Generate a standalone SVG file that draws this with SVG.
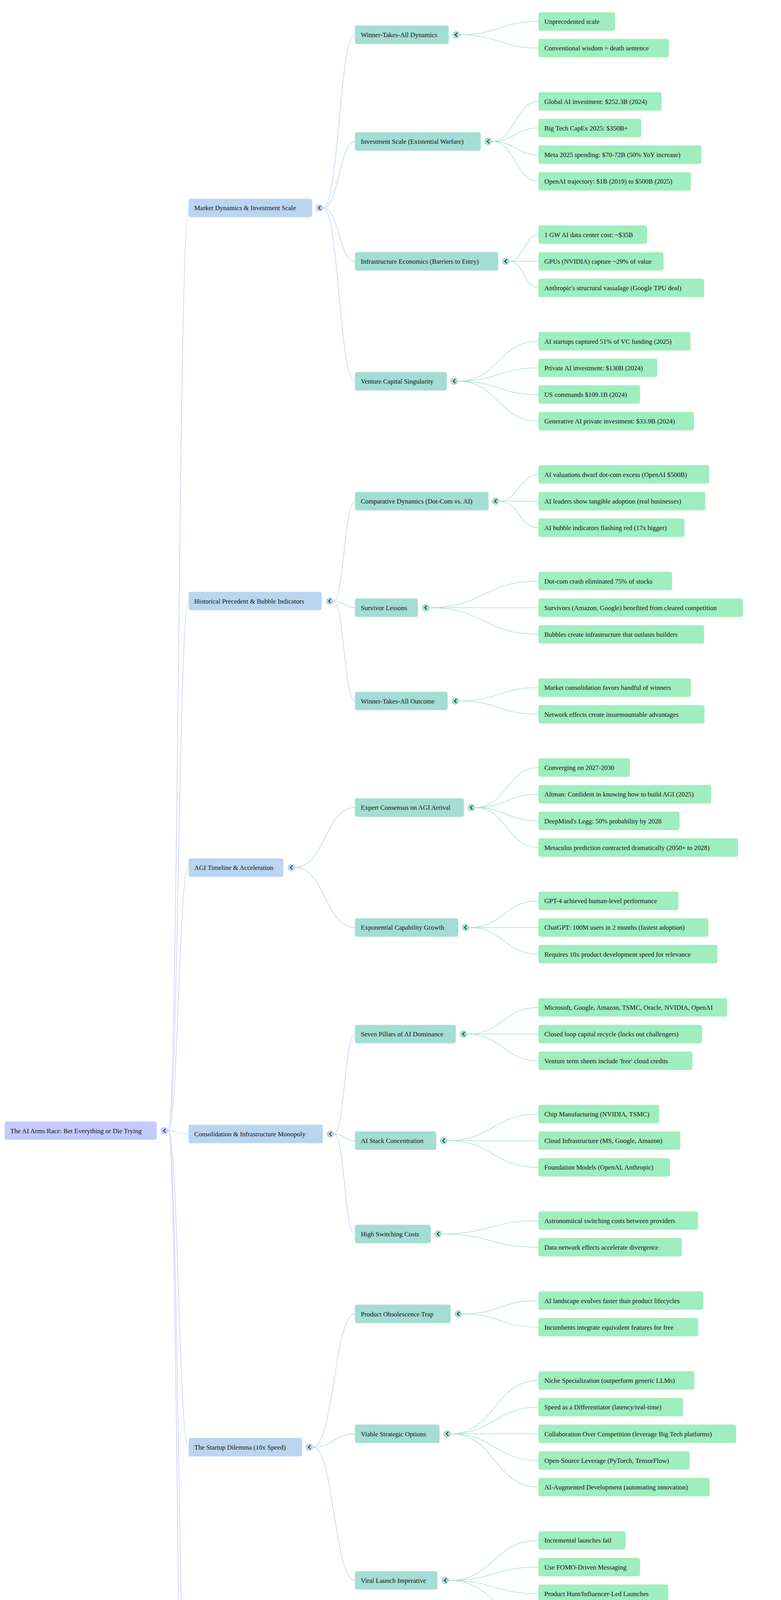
<svg xmlns="http://www.w3.org/2000/svg" width="2000" height="5704" viewBox="0 0 2000 5704">
<style>
text{font-family:"Liberation Serif","Times New Roman",serif;font-size:17px;fill:#111}
rect{stroke-width:1.5;stroke-opacity:0.5}
.n0{fill:#c4cafe;stroke:#d8dcff}
.n1{fill:#bad5f0;stroke:#d2e4f7}
.n2{fill:#a3ddd3;stroke:#c2ebe3}
.n3{fill:#9eeebe;stroke:#c0f6d6}
.c0{fill:#c4cafe}.c1{fill:#bad5f0}.c2{fill:#a3ddd3}
.chev{fill:none;stroke:#111;stroke-width:1.8;stroke-linecap:round;stroke-linejoin:round}
#connectors path{fill:none;stroke-width:1.5}
.l0{stroke:#c4cafe}.l1{stroke:#b9d3f1}.l2{stroke:#a5e0d5}
</style>
<g id="connectors">
<path class="l0" d="M430.5,2894.6 C456.8,2894.6 456.8,532.4 483,532.4"/>
<path class="l0" d="M430.5,2894.6 C456.8,2894.6 456.8,1538.7 483,1538.7"/>
<path class="l0" d="M430.5,2894.6 C456.8,2894.6 456.8,2220.9 483,2220.9"/>
<path class="l0" d="M430.5,2894.6 C456.8,2894.6 456.8,2903.1 483,2903.1"/>
<path class="l0" d="M430.5,2894.6 C456.8,2894.6 456.8,3704.7 483,3704.7"/>
<path class="l0" d="M430.5,2894.6 C456.8,2894.6 456.8,4489.2 483,4489.2"/>
<path class="l0" d="M430.5,2894.6 C456.8,2894.6 456.8,5256.7 483,5256.7"/>
<path class="l1" d="M827.5,532.4 C868.3,532.4 868.3,89 909,89"/>
<path class="l1" d="M827.5,532.4 C868.3,532.4 868.3,361.9 909,361.9"/>
<path class="l1" d="M827.5,532.4 C868.3,532.4 868.3,668.9 909,668.9"/>
<path class="l1" d="M827.5,532.4 C868.3,532.4 868.3,975.9 909,975.9"/>
<path class="l1" d="M853.5,1538.7 C881.3,1538.7 881.3,1282.9 909,1282.9"/>
<path class="l1" d="M853.5,1538.7 C881.3,1538.7 881.3,1555.7 909,1555.7"/>
<path class="l1" d="M853.5,1538.7 C881.3,1538.7 881.3,1794.5 909,1794.5"/>
<path class="l1" d="M755.5,2220.9 C832.3,2220.9 832.3,2067.4 909,2067.4"/>
<path class="l1" d="M755.5,2220.9 C832.3,2220.9 832.3,2374.4 909,2374.4"/>
<path class="l1" d="M855.5,2903.1 C882.3,2903.1 882.3,2647.3 909,2647.3"/>
<path class="l1" d="M855.5,2903.1 C882.3,2903.1 882.3,2920.1 909,2920.1"/>
<path class="l1" d="M855.5,2903.1 C882.3,2903.1 882.3,3158.9 909,3158.9"/>
<path class="l1" d="M801.5,3704.7 C855.3,3704.7 855.3,3363.6 909,3363.6"/>
<path class="l1" d="M801.5,3704.7 C855.3,3704.7 855.3,3670.6 909,3670.6"/>
<path class="l1" d="M801.5,3704.7 C855.3,3704.7 855.3,4045.8 909,4045.8"/>
<path class="l1" d="M824.5,4489.2 C866.8,4489.2 866.8,4352.8 909,4352.8"/>
<path class="l1" d="M824.5,4489.2 C866.8,4489.2 866.8,4625.6 909,4625.6"/>
<path class="l1" d="M807.5,5256.7 C858.3,5256.7 858.3,4932.6 909,4932.6"/>
<path class="l1" d="M807.5,5256.7 C858.3,5256.7 858.3,5273.7 909,5273.7"/>
<path class="l1" d="M807.5,5256.7 C858.3,5256.7 858.3,5580.7 909,5580.7"/>
<path class="l2" d="M1177.5,89 C1278.3,89 1278.3,54.9 1379,54.9"/>
<path class="l2" d="M1177.5,89 C1278.3,89 1278.3,123.1 1379,123.1"/>
<path class="l2" d="M1259.5,361.9 C1319.3,361.9 1319.3,259.6 1379,259.6"/>
<path class="l2" d="M1259.5,361.9 C1319.3,361.9 1319.3,327.8 1379,327.8"/>
<path class="l2" d="M1259.5,361.9 C1319.3,361.9 1319.3,396 1379,396"/>
<path class="l2" d="M1259.5,361.9 C1319.3,361.9 1319.3,464.2 1379,464.2"/>
<path class="l2" d="M1304.5,668.9 C1341.8,668.9 1341.8,600.7 1379,600.7"/>
<path class="l2" d="M1304.5,668.9 C1341.8,668.9 1341.8,668.9 1379,668.9"/>
<path class="l2" d="M1304.5,668.9 C1341.8,668.9 1341.8,737.1 1379,737.1"/>
<path class="l2" d="M1172.5,975.9 C1275.8,975.9 1275.8,873.5 1379,873.5"/>
<path class="l2" d="M1172.5,975.9 C1275.8,975.9 1275.8,941.8 1379,941.8"/>
<path class="l2" d="M1172.5,975.9 C1275.8,975.9 1275.8,1010 1379,1010"/>
<path class="l2" d="M1172.5,975.9 C1275.8,975.9 1275.8,1078.2 1379,1078.2"/>
<path class="l2" d="M1278.5,1282.9 C1328.8,1282.9 1328.8,1214.6 1379,1214.6"/>
<path class="l2" d="M1278.5,1282.9 C1328.8,1282.9 1328.8,1282.9 1379,1282.9"/>
<path class="l2" d="M1278.5,1282.9 C1328.8,1282.9 1328.8,1351.1 1379,1351.1"/>
<path class="l2" d="M1099.5,1555.7 C1239.3,1555.7 1239.3,1487.5 1379,1487.5"/>
<path class="l2" d="M1099.5,1555.7 C1239.3,1555.7 1239.3,1555.7 1379,1555.7"/>
<path class="l2" d="M1099.5,1555.7 C1239.3,1555.7 1239.3,1624 1379,1624"/>
<path class="l2" d="M1175.5,1794.5 C1277.3,1794.5 1277.3,1760.4 1379,1760.4"/>
<path class="l2" d="M1175.5,1794.5 C1277.3,1794.5 1277.3,1828.6 1379,1828.6"/>
<path class="l2" d="M1216.5,2067.4 C1297.8,2067.4 1297.8,1965.1 1379,1965.1"/>
<path class="l2" d="M1216.5,2067.4 C1297.8,2067.4 1297.8,2033.3 1379,2033.3"/>
<path class="l2" d="M1216.5,2067.4 C1297.8,2067.4 1297.8,2101.5 1379,2101.5"/>
<path class="l2" d="M1216.5,2067.4 C1297.8,2067.4 1297.8,2169.7 1379,2169.7"/>
<path class="l2" d="M1201.5,2374.4 C1290.3,2374.4 1290.3,2306.2 1379,2306.2"/>
<path class="l2" d="M1201.5,2374.4 C1290.3,2374.4 1290.3,2374.4 1379,2374.4"/>
<path class="l2" d="M1201.5,2374.4 C1290.3,2374.4 1290.3,2442.6 1379,2442.6"/>
<path class="l2" d="M1196.5,2647.3 C1287.8,2647.3 1287.8,2579 1379,2579"/>
<path class="l2" d="M1196.5,2647.3 C1287.8,2647.3 1287.8,2647.3 1379,2647.3"/>
<path class="l2" d="M1196.5,2647.3 C1287.8,2647.3 1287.8,2715.5 1379,2715.5"/>
<path class="l2" d="M1145.5,2920.1 C1262.3,2920.1 1262.3,2851.9 1379,2851.9"/>
<path class="l2" d="M1145.5,2920.1 C1262.3,2920.1 1262.3,2920.1 1379,2920.1"/>
<path class="l2" d="M1145.5,2920.1 C1262.3,2920.1 1262.3,2988.4 1379,2988.4"/>
<path class="l2" d="M1131.5,3158.9 C1255.3,3158.9 1255.3,3124.8 1379,3124.8"/>
<path class="l2" d="M1131.5,3158.9 C1255.3,3158.9 1255.3,3193 1379,3193"/>
<path class="l2" d="M1183,3363.6 C1281,3363.6 1281,3329.5 1379,3329.5"/>
<path class="l2" d="M1183,3363.6 C1281,3363.6 1281,3397.7 1379,3397.7"/>
<path class="l2" d="M1154.5,3670.6 C1266.8,3670.6 1266.8,3534.1 1379,3534.1"/>
<path class="l2" d="M1154.5,3670.6 C1266.8,3670.6 1266.8,3602.3 1379,3602.3"/>
<path class="l2" d="M1154.5,3670.6 C1266.8,3670.6 1266.8,3670.6 1379,3670.6"/>
<path class="l2" d="M1154.5,3670.6 C1266.8,3670.6 1266.8,3738.8 1379,3738.8"/>
<path class="l2" d="M1154.5,3670.6 C1266.8,3670.6 1266.8,3807 1379,3807"/>
<path class="l2" d="M1149.5,4045.8 C1264.3,4045.8 1264.3,3943.4 1379,3943.4"/>
<path class="l2" d="M1149.5,4045.8 C1264.3,4045.8 1264.3,4011.7 1379,4011.7"/>
<path class="l2" d="M1149.5,4045.8 C1264.3,4045.8 1264.3,4079.9 1379,4079.9"/>
<path class="l2" d="M1149.5,4045.8 C1264.3,4045.8 1264.3,4148.1 1379,4148.1"/>
<path class="l2" d="M1276.5,4352.8 C1327.8,4352.8 1327.8,4284.5 1379,4284.5"/>
<path class="l2" d="M1276.5,4352.8 C1327.8,4352.8 1327.8,4352.8 1379,4352.8"/>
<path class="l2" d="M1276.5,4352.8 C1327.8,4352.8 1327.8,4421 1379,4421"/>
<path class="l2" d="M1162.5,4625.6 C1270.8,4625.6 1270.8,4557.4 1379,4557.4"/>
<path class="l2" d="M1162.5,4625.6 C1270.8,4625.6 1270.8,4625.6 1379,4625.6"/>
<path class="l2" d="M1162.5,4625.6 C1270.8,4625.6 1270.8,4693.9 1379,4693.9"/>
<path class="l2" d="M1325.5,4932.6 C1352.3,4932.6 1352.3,4830.3 1379,4830.3"/>
<path class="l2" d="M1325.5,4932.6 C1352.3,4932.6 1352.3,4898.5 1379,4898.5"/>
<path class="l2" d="M1325.5,4932.6 C1352.3,4932.6 1352.3,4966.7 1379,4966.7"/>
<path class="l2" d="M1325.5,4932.6 C1352.3,4932.6 1352.3,5035 1379,5035"/>
<path class="l2" d="M1100.5,5273.7 C1239.8,5273.7 1239.8,5171.4 1379,5171.4"/>
<path class="l2" d="M1100.5,5273.7 C1239.8,5273.7 1239.8,5239.6 1379,5239.6"/>
<path class="l2" d="M1100.5,5273.7 C1239.8,5273.7 1239.8,5307.8 1379,5307.8"/>
<path class="l2" d="M1100.5,5273.7 C1239.8,5273.7 1239.8,5376.1 1379,5376.1"/>
<path class="l2" d="M1140,5580.7 C1259.5,5580.7 1259.5,5512.5 1379,5512.5"/>
<path class="l2" d="M1140,5580.7 C1259.5,5580.7 1259.5,5580.7 1379,5580.7"/>
<path class="l2" d="M1140,5580.7 C1259.5,5580.7 1259.5,5648.9 1379,5648.9"/>
</g>
<g id="root"><rect class="n0" x="12" y="2871.1" width="389" height="47" rx="5"/><text x="26.5" y="2900.6">The AI Arms Race: Bet Everything or Die Trying</text><circle class="c0" cx="421" cy="2894.6" r="9.5"/><path class="chev" d="M423.5,2890.1 l-5,4.5 l5,4.5"/></g>
<g id="n1"><rect class="n1" x="483" y="508.9" width="316" height="47" rx="5"/><text x="497.5" y="538.4">Market Dynamics &amp; Investment Scale</text><circle class="c1" cx="818" cy="532.4" r="9.5"/><path class="chev" d="M820.5,527.9 l-5,4.5 l5,4.5"/></g>
<g id="n2"><rect class="n1" x="483" y="1515.2" width="340.5" height="47" rx="5"/><text x="497.5" y="1544.7">Historical Precedent &amp; Bubble Indicators</text><circle class="c1" cx="844" cy="1538.7" r="9.5"/><path class="chev" d="M846.5,1534.2 l-5,4.5 l5,4.5"/></g>
<g id="n3"><rect class="n1" x="483" y="2197.4" width="242.5" height="47" rx="5"/><text x="497.5" y="2226.9">AGI Timeline &amp; Acceleration</text><circle class="c1" cx="746" cy="2220.9" r="9.5"/><path class="chev" d="M748.5,2216.4 l-5,4.5 l5,4.5"/></g>
<g id="n4"><rect class="n1" x="483" y="2879.6" width="343.5" height="47" rx="5"/><text x="497.5" y="2909.1">Consolidation &amp; Infrastructure Monopoly</text><circle class="c1" cx="846" cy="2903.1" r="9.5"/><path class="chev" d="M848.5,2898.6 l-5,4.5 l5,4.5"/></g>
<g id="n5"><rect class="n1" x="483" y="3681.2" width="290.5" height="47" rx="5"/><text x="497.5" y="3710.7">The Startup Dilemma (10x Speed)</text><circle class="c1" cx="792" cy="3704.7" r="9.5"/><path class="chev" d="M794.5,3700.2 l-5,4.5 l5,4.5"/></g>
<g id="n6"><rect class="n1" x="483" y="4465.7" width="313" height="47" rx="5"/><text x="497.5" y="4495.2">End-User Dividend &amp; Data Monopoly</text><circle class="c1" cx="815" cy="4489.2" r="9.5"/><path class="chev" d="M817.5,4484.7 l-5,4.5 l5,4.5"/></g>
<g id="n7"><rect class="n1" x="483" y="5233.2" width="295.6" height="47" rx="5"/><text x="497.5" y="5262.7">Strategic Imperatives for Founders</text><circle class="c1" cx="798" cy="5256.7" r="9.5"/><path class="chev" d="M800.5,5252.2 l-5,4.5 l5,4.5"/></g>
<g id="n1a"><rect class="n2" x="909" y="65.5" width="240" height="47" rx="5"/><text x="924" y="95">Winner-Takes-All Dynamics</text><circle class="c2" cx="1168" cy="89" r="9.5"/><path class="chev" d="M1170.5,84.5 l-5,4.5 l5,4.5"/></g>
<g id="n1b"><rect class="n2" x="909" y="338.4" width="322" height="47" rx="5"/><text x="924" y="367.9">Investment Scale (Existential Warfare)</text><circle class="c2" cx="1250" cy="361.9" r="9.5"/><path class="chev" d="M1252.5,357.4 l-5,4.5 l5,4.5"/></g>
<g id="n1c"><rect class="n2" x="909" y="645.4" width="367" height="47" rx="5"/><text x="924" y="674.9">Infrastructure Economics (Barriers to Entry)</text><circle class="c2" cx="1295" cy="668.9" r="9.5"/><path class="chev" d="M1297.5,664.4 l-5,4.5 l5,4.5"/></g>
<g id="n1d"><rect class="n2" x="909" y="952.4" width="235" height="47" rx="5"/><text x="924" y="981.9">Venture Capital Singularity</text><circle class="c2" cx="1163" cy="975.9" r="9.5"/><path class="chev" d="M1165.5,971.4 l-5,4.5 l5,4.5"/></g>
<g id="n2a"><rect class="n2" x="909" y="1259.4" width="342" height="47" rx="5"/><text x="924" y="1288.9">Comparative Dynamics (Dot-Com vs. AI)</text><circle class="c2" cx="1269" cy="1282.9" r="9.5"/><path class="chev" d="M1271.5,1278.4 l-5,4.5 l5,4.5"/></g>
<g id="n2b"><rect class="n2" x="909" y="1532.2" width="161" height="47" rx="5"/><text x="924" y="1561.7">Survivor Lessons</text><circle class="c2" cx="1090" cy="1555.7" r="9.5"/><path class="chev" d="M1092.5,1551.2 l-5,4.5 l5,4.5"/></g>
<g id="n2c"><rect class="n2" x="909" y="1771" width="237" height="47" rx="5"/><text x="924" y="1800.5">Winner-Takes-All Outcome</text><circle class="c2" cx="1166" cy="1794.5" r="9.5"/><path class="chev" d="M1168.5,1790 l-5,4.5 l5,4.5"/></g>
<g id="n3a"><rect class="n2" x="909" y="2043.9" width="279" height="47" rx="5"/><text x="924" y="2073.4">Expert Consensus on AGI Arrival</text><circle class="c2" cx="1207" cy="2067.4" r="9.5"/><path class="chev" d="M1209.5,2062.9 l-5,4.5 l5,4.5"/></g>
<g id="n3b"><rect class="n2" x="909" y="2350.9" width="264.5" height="47" rx="5"/><text x="924" y="2380.4">Exponential Capability Growth</text><circle class="c2" cx="1192" cy="2374.4" r="9.5"/><path class="chev" d="M1194.5,2369.9 l-5,4.5 l5,4.5"/></g>
<g id="n4a"><rect class="n2" x="909" y="2623.8" width="258" height="47" rx="5"/><text x="924" y="2653.3">Seven Pillars of AI Dominance</text><circle class="c2" cx="1187" cy="2647.3" r="9.5"/><path class="chev" d="M1189.5,2642.8 l-5,4.5 l5,4.5"/></g>
<g id="n4b"><rect class="n2" x="909" y="2896.6" width="208" height="47" rx="5"/><text x="924" y="2926.1">AI Stack Concentration</text><circle class="c2" cx="1136" cy="2920.1" r="9.5"/><path class="chev" d="M1138.5,2915.6 l-5,4.5 l5,4.5"/></g>
<g id="n4c"><rect class="n2" x="909" y="3135.4" width="194" height="47" rx="5"/><text x="924" y="3164.9">High Switching Costs</text><circle class="c2" cx="1122" cy="3158.9" r="9.5"/><path class="chev" d="M1124.5,3154.4 l-5,4.5 l5,4.5"/></g>
<g id="n5a"><rect class="n2" x="909" y="3340.1" width="245" height="47" rx="5"/><text x="924" y="3369.6">Product Obsolescence Trap</text><circle class="c2" cx="1173.5" cy="3363.6" r="9.5"/><path class="chev" d="M1176,3359.1 l-5,4.5 l5,4.5"/></g>
<g id="n5b"><rect class="n2" x="909" y="3647.1" width="216.5" height="47" rx="5"/><text x="924" y="3676.6">Viable Strategic Options</text><circle class="c2" cx="1145" cy="3670.6" r="9.5"/><path class="chev" d="M1147.5,3666.1 l-5,4.5 l5,4.5"/></g>
<g id="n5c"><rect class="n2" x="909" y="4022.3" width="211" height="47" rx="5"/><text x="924" y="4051.8">Viral Launch Imperative</text><circle class="c2" cx="1140" cy="4045.8" r="9.5"/><path class="chev" d="M1142.5,4041.3 l-5,4.5 l5,4.5"/></g>
<g id="n6a"><rect class="n2" x="909" y="4329.3" width="339" height="47" rx="5"/><text x="924" y="4358.8">Subsidization Strategy (Market Capture)</text><circle class="c2" cx="1267" cy="4352.8" r="9.5"/><path class="chev" d="M1269.5,4348.3 l-5,4.5 l5,4.5"/></g>
<g id="n6b"><rect class="n2" x="909" y="4602.1" width="225" height="47" rx="5"/><text x="924" y="4631.6">Data Monopoly Endgame</text><circle class="c2" cx="1153" cy="4625.6" r="9.5"/><path class="chev" d="M1155.5,4621.1 l-5,4.5 l5,4.5"/></g>
<g id="n7a"><rect class="n2" x="909" y="4909.1" width="388" height="47" rx="5"/><text x="924" y="4938.6">The All-In Decision Framework (Binary Choice)</text><circle class="c2" cx="1316" cy="4932.6" r="9.5"/><path class="chev" d="M1318.5,4928.1 l-5,4.5 l5,4.5"/></g>
<g id="n7b"><rect class="n2" x="909" y="5250.2" width="162" height="47" rx="5"/><text x="924" y="5279.7">Required Actions</text><circle class="c2" cx="1091" cy="5273.7" r="9.5"/><path class="chev" d="M1093.5,5269.2 l-5,4.5 l5,4.5"/></g>
<g id="n7c"><rect class="n2" x="909" y="5557.2" width="202" height="47" rx="5"/><text x="924" y="5586.7">The Finish Line Mirage</text><circle class="c2" cx="1130.5" cy="5580.7" r="9.5"/><path class="chev" d="M1133,5576.2 l-5,4.5 l5,4.5"/></g>
<g id="leaf00"><rect class="n3" x="1379" y="31.4" width="196" height="47" rx="5"/><text x="1394" y="60.9">Unprecedented scale</text></g>
<g id="leaf01"><rect class="n3" x="1379" y="99.6" width="334" height="47" rx="5"/><text x="1394" y="129.1">Conventional wisdom = death sentence</text></g>
<g id="leaf03"><rect class="n3" x="1379" y="236.1" width="315" height="47" rx="5"/><text x="1394" y="265.6">Global AI investment: $252.3B (2024)</text></g>
<g id="leaf04"><rect class="n3" x="1379" y="304.3" width="263" height="47" rx="5"/><text x="1394" y="333.8">Big Tech CapEx 2025: $350B+</text></g>
<g id="leaf05"><rect class="n3" x="1379" y="372.5" width="417" height="47" rx="5"/><text x="1394" y="402">Meta 2025 spending: $70-72B (50% YoY increase)</text></g>
<g id="leaf06"><rect class="n3" x="1379" y="440.7" width="390" height="47" rx="5"/><text x="1394" y="470.2">OpenAI trajectory: $1B (2019) to $500B (2025)</text></g>
<g id="leaf08"><rect class="n3" x="1379" y="577.2" width="278" height="47" rx="5"/><text x="1394" y="606.7">1 GW AI data center cost: ~$35B</text></g>
<g id="leaf09"><rect class="n3" x="1379" y="645.4" width="320" height="47" rx="5"/><text x="1394" y="674.9">GPUs (NVIDIA) capture ~29% of value</text></g>
<g id="leaf10"><rect class="n3" x="1379" y="713.6" width="424" height="47" rx="5"/><text x="1394" y="743.1">Anthropic's structural vassalage (Google TPU deal)</text></g>
<g id="leaf12"><rect class="n3" x="1379" y="850" width="389" height="47" rx="5"/><text x="1394" y="879.5">AI startups captured 51% of VC funding (2025)</text></g>
<g id="leaf13"><rect class="n3" x="1379" y="918.3" width="304" height="47" rx="5"/><text x="1394" y="947.8">Private AI investment: $130B (2024)</text></g>
<g id="leaf14"><rect class="n3" x="1379" y="986.5" width="260" height="47" rx="5"/><text x="1394" y="1016">US commands $109.1B (2024)</text></g>
<g id="leaf15"><rect class="n3" x="1379" y="1054.7" width="398" height="47" rx="5"/><text x="1394" y="1084.2">Generative AI private investment: $33.9B (2024)</text></g>
<g id="leaf17"><rect class="n3" x="1379" y="1191.1" width="437" height="47" rx="5"/><text x="1394" y="1220.6">AI valuations dwarf dot-com excess (OpenAI $500B)</text></g>
<g id="leaf18"><rect class="n3" x="1379" y="1259.4" width="427" height="47" rx="5"/><text x="1394" y="1288.9">AI leaders show tangible adoption (real businesses)</text></g>
<g id="leaf19"><rect class="n3" x="1379" y="1327.6" width="374" height="47" rx="5"/><text x="1394" y="1357.1">AI bubble indicators flashing red (17x bigger)</text></g>
<g id="leaf21"><rect class="n3" x="1379" y="1464" width="342" height="47" rx="5"/><text x="1394" y="1493.5">Dot-com crash eliminated 75% of stocks</text></g>
<g id="leaf22"><rect class="n3" x="1379" y="1532.2" width="523" height="47" rx="5"/><text x="1394" y="1561.7">Survivors (Amazon, Google) benefited from cleared competition</text></g>
<g id="leaf23"><rect class="n3" x="1379" y="1600.5" width="424" height="47" rx="5"/><text x="1394" y="1630">Bubbles create infrastructure that outlasts builders</text></g>
<g id="leaf25"><rect class="n3" x="1379" y="1736.9" width="390" height="47" rx="5"/><text x="1394" y="1766.4">Market consolidation favors handful of winners</text></g>
<g id="leaf26"><rect class="n3" x="1379" y="1805.1" width="425" height="47" rx="5"/><text x="1394" y="1834.6">Network effects create insurmountable advantages</text></g>
<g id="leaf28"><rect class="n3" x="1379" y="1941.6" width="234" height="47" rx="5"/><text x="1394" y="1971.1">Converging on 2027-2030</text></g>
<g id="leaf29"><rect class="n3" x="1379" y="2009.8" width="442" height="47" rx="5"/><text x="1394" y="2039.3">Altman: Confident in knowing how to build AGI (2025)</text></g>
<g id="leaf30"><rect class="n3" x="1379" y="2078" width="361" height="47" rx="5"/><text x="1394" y="2107.5">DeepMind's Legg: 50% probability by 2028</text></g>
<g id="leaf31"><rect class="n3" x="1379" y="2146.2" width="511" height="47" rx="5"/><text x="1394" y="2175.7">Metaculus prediction contracted dramatically (2050+ to 2028)</text></g>
<g id="leaf33"><rect class="n3" x="1379" y="2282.7" width="358" height="47" rx="5"/><text x="1394" y="2312.2">GPT-4 achieved human-level performance</text></g>
<g id="leaf34"><rect class="n3" x="1379" y="2350.9" width="435" height="47" rx="5"/><text x="1394" y="2380.4">ChatGPT: 100M users in 2 months (fastest adoption)</text></g>
<g id="leaf35"><rect class="n3" x="1379" y="2419.1" width="458" height="47" rx="5"/><text x="1394" y="2448.6">Requires 10x product development speed for relevance</text></g>
<g id="leaf37"><rect class="n3" x="1379" y="2555.5" width="483" height="47" rx="5"/><text x="1394" y="2585">Microsoft, Google, Amazon, TSMC, Oracle, NVIDIA, OpenAI</text></g>
<g id="leaf38"><rect class="n3" x="1379" y="2623.8" width="419" height="47" rx="5"/><text x="1394" y="2653.3">Closed loop capital recycle (locks out challengers)</text></g>
<g id="leaf39"><rect class="n3" x="1379" y="2692" width="394" height="47" rx="5"/><text x="1394" y="2721.5">Venture term sheets include 'free' cloud credits</text></g>
<g id="leaf41"><rect class="n3" x="1379" y="2828.4" width="309" height="47" rx="5"/><text x="1394" y="2857.9">Chip Manufacturing (NVIDIA, TSMC)</text></g>
<g id="leaf42"><rect class="n3" x="1379" y="2896.6" width="363" height="47" rx="5"/><text x="1394" y="2926.1">Cloud Infrastructure (MS, Google, Amazon)</text></g>
<g id="leaf43"><rect class="n3" x="1379" y="2964.9" width="337" height="47" rx="5"/><text x="1394" y="2994.4">Foundation Models (OpenAI, Anthropic)</text></g>
<g id="leaf45"><rect class="n3" x="1379" y="3101.3" width="408" height="47" rx="5"/><text x="1394" y="3130.8">Astronomiical switching costs between providers</text></g>
<g id="leaf46"><rect class="n3" x="1379" y="3169.5" width="367" height="47" rx="5"/><text x="1394" y="3199">Data network effects accelerate divergence</text></g>
<g id="leaf48"><rect class="n3" x="1379" y="3306" width="422" height="47" rx="5"/><text x="1394" y="3335.5">AI landscape evolves faster than product lifecycles</text></g>
<g id="leaf49"><rect class="n3" x="1379" y="3374.2" width="409" height="47" rx="5"/><text x="1394" y="3403.7">Incumbents integrate equivalent features for free</text></g>
<g id="leaf51"><rect class="n3" x="1379" y="3510.6" width="399" height="47" rx="5"/><text x="1394" y="3540.1">Niche Specialization (outperform generic LLMs)</text></g>
<g id="leaf52"><rect class="n3" x="1379" y="3578.8" width="370" height="47" rx="5"/><text x="1394" y="3608.3">Speed as a Differentiator (latency/real-time)</text></g>
<g id="leaf53"><rect class="n3" x="1379" y="3647.1" width="506" height="47" rx="5"/><text x="1394" y="3676.6">Collaboration Over Competition (leverage Big Tech platforms)</text></g>
<g id="leaf54"><rect class="n3" x="1379" y="3715.3" width="387" height="47" rx="5"/><text x="1394" y="3744.8">Open-Source Leverage (PyTorch, TensorFlow)</text></g>
<g id="leaf55"><rect class="n3" x="1379" y="3783.5" width="438" height="47" rx="5"/><text x="1394" y="3813">AI-Augmented Development (automating innovation)</text></g>
<g id="leaf57"><rect class="n3" x="1379" y="3919.9" width="223" height="47" rx="5"/><text x="1394" y="3949.4">Incremental launches fail</text></g>
<g id="leaf58"><rect class="n3" x="1379" y="3988.2" width="260" height="47" rx="5"/><text x="1394" y="4017.7">Use FOMO-Driven Messaging</text></g>
<g id="leaf59"><rect class="n3" x="1379" y="4056.4" width="332" height="47" rx="5"/><text x="1394" y="4085.9">Product Hunt/Influencer-Led Launches</text></g>
<g id="leaf60"><rect class="n3" x="1379" y="4124.6" width="373" height="47" rx="5"/><text x="1394" y="4154.1">Must demonstrate hypergrowth immediately</text></g>
<g id="leaf62"><rect class="n3" x="1379" y="4261" width="472" height="47" rx="5"/><text x="1394" y="4290.5">Distribute high-end tools near-zero cost (GPT-4 free tier)</text></g>
<g id="leaf63"><rect class="n3" x="1379" y="4329.3" width="451" height="47" rx="5"/><text x="1394" y="4358.8">Hooks users into ecosystems (creates switching costs)</text></g>
<g id="leaf64"><rect class="n3" x="1379" y="4397.5" width="529" height="47" rx="5"/><text x="1394" y="4427">Startups compete against free tools from players burning billions</text></g>
<g id="leaf66"><rect class="n3" x="1379" y="4533.9" width="359" height="47" rx="5"/><text x="1394" y="4563.4">Training on trillions of non-portable tokens</text></g>
<g id="leaf67"><rect class="n3" x="1379" y="4602.1" width="501" height="47" rx="5"/><text x="1394" y="4631.6">Proprietary datasets (Meta social data, OpenAI partnerships)</text></g>
<g id="leaf68"><rect class="n3" x="1379" y="4670.4" width="422" height="47" rx="5"/><text x="1394" y="4699.9">Permanent barriers to entry after two-year window</text></g>
<g id="leaf70"><rect class="n3" x="1379" y="4806.8" width="345.5" height="47" rx="5"/><text x="1394" y="4836.3">Minimum Viable Scale ($100M+ revenue)</text></g>
<g id="leaf71"><rect class="n3" x="1379" y="4875" width="367" height="47" rx="5"/><text x="1394" y="4904.5">Differentiation Durability (defensible moats)</text></g>
<g id="leaf72"><rect class="n3" x="1379" y="4943.2" width="284" height="47" rx="5"/><text x="1394" y="4972.7">Capital Access ($50M+ Series A)</text></g>
<g id="leaf73"><rect class="n3" x="1379" y="5011.5" width="394" height="47" rx="5"/><text x="1394" y="5041">Viral Potential (immediate hypergrowth signals)</text></g>
<g id="leaf75"><rect class="n3" x="1379" y="5147.9" width="408" height="47" rx="5"/><text x="1394" y="5177.4">Bet big (accept losses, prioritize market position)</text></g>
<g id="leaf76"><rect class="n3" x="1379" y="5216.1" width="206" height="47" rx="5"/><text x="1394" y="5245.6">Commit to 10x velocity</text></g>
<g id="leaf77"><rect class="n3" x="1379" y="5284.3" width="332" height="47" rx="5"/><text x="1394" y="5313.8">Engineering hypergrowth from day one</text></g>
<g id="leaf78"><rect class="n3" x="1379" y="5352.6" width="580" height="47" rx="5"/><text x="1394" y="5382.1">Avoid conservative, responsible investment strategies (death sentence)</text></g>
<g id="leaf80"><rect class="n3" x="1379" y="5489" width="387" height="47" rx="5"/><text x="1394" y="5518.5">Market will collapse (unsustainable valuations)</text></g>
<g id="leaf81"><rect class="n3" x="1379" y="5557.2" width="330" height="47" rx="5"/><text x="1394" y="5586.7">Survivors will be the largest companies</text></g>
<g id="leaf82"><rect class="n3" x="1379" y="5625.4" width="501" height="47" rx="5"/><text x="1394" y="5654.9">Goal: Dominance when competitors collapse, not profitability</text></g>
</svg>
